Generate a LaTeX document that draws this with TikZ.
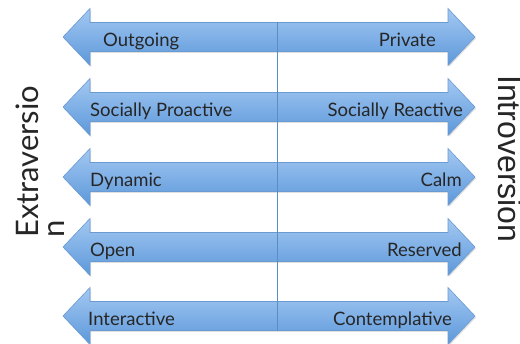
\documentclass[tikz,border=0pt]{standalone}
\usepackage{fontspec}
\setmainfont{Lato}
\newfontfamily\helv{Liberation Sans}
\usetikzlibrary{shadows}
\definecolor{arrtop}{HTML}{A3C8F2}
\definecolor{arrbot}{HTML}{5C98DA}
\definecolor{arredge}{HTML}{6A9AD2}
\definecolor{axisline}{HTML}{5B8CC4}
\tikzset{
  arrowband/.style={draw=arredge, line width=0.6pt, top color=arrtop, bottom color=arrbot,
    drop shadow={shadow xshift=1pt, shadow yshift=-1.5pt, opacity=0.25}},
  lbl/.style={font=\fontsize{18.5}{20}\selectfont, inner sep=0pt, text=black!85},
  side/.style={font=\fontsize{31}{34}\selectfont, inner sep=0pt, text=black!85}
}
\begin{document}
\begin{tikzpicture}[x=1pt,y=-1pt]
\useasboundingbox (0,0) rectangle (520,344);
\foreach \yc in {37,107,177,247,316}{
  \path[arrowband] (63,\yc) -- (90,\yc-28.5) -- (90,\yc-14.5) -- (448,\yc-14.5) -- (448,\yc-28.5)
    -- (475,\yc) -- (448,\yc+28.5) -- (448,\yc+14.5) -- (90,\yc+14.5) -- (90,\yc+28.5) -- cycle;
}
\coordinate (vtop) at (277,22);
\coordinate (vbot) at (277,331);
\draw[axisline, line width=1pt] (vtop) -- (vbot);
\node[lbl, anchor=base west] (l1) at (103,47) {Outgoing};
\node[lbl, anchor=base east] (r1) at (436,47) {Private};
\node[lbl, anchor=base west] (l2) at (90,117) {Socially Proactive};
\node[lbl, anchor=base east] (r2) at (463,117) {Socially Reactive};
\node[lbl, anchor=base west] (l3) at (90,187) {Dynamic};
\node[lbl, anchor=base east] (r3) at (462,187) {Calm};
\node[lbl, anchor=base west] (l4) at (90,257) {Open};
\node[lbl, anchor=base east] (r4) at (462,257) {Reserved};
\node[lbl, anchor=base west] (l5) at (88,326) {Interactive};
\node[lbl, anchor=base east] (r5) at (452,326) {Contemplative};
\node[side, rotate=90, anchor=base west] (ext1) at (38,238) {Extraversio};
\node[side, rotate=90, anchor=base west] (ext2) at (64,238) {n};
\node[side, font=\helv\fontsize{32}{34}\selectfont, rotate=-90, anchor=base west] (intro) at (498,75) {Introversion};
\end{tikzpicture}
\end{document}
